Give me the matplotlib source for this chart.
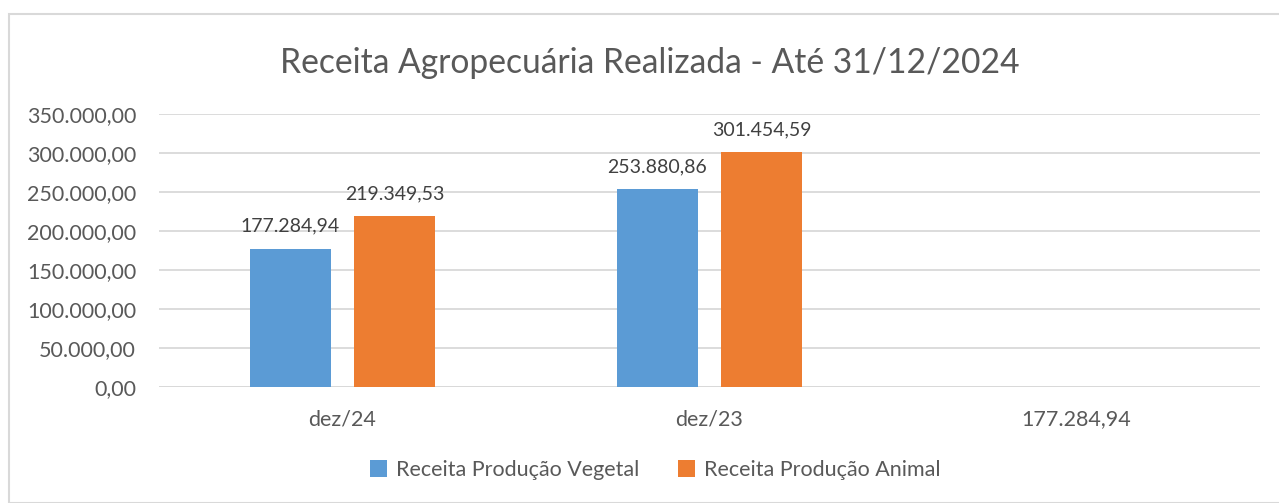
import matplotlib
matplotlib.use("Agg")
import matplotlib.pyplot as plt
from matplotlib.patches import Rectangle
import numpy as np

categories = ["dez/24", "dez/23", "177.284,94"]
vegetal = [177284.94, 253880.86, None]
animal = [219349.53, 301454.59, None]
series_names = ["Receita Produção Vegetal", "Receita Produção Animal"]
yticks = [0, 50000, 100000, 150000, 200000, 250000, 300000, 350000]
title = "Receita Agropecuária Realizada - Até 31/12/2024"

def fmt(v):
    s = f"{v:,.2f}"
    return s.replace(",", "X").replace(".", ",").replace("X", ".")

plt.rcParams['font.family'] = ['Lato', 'DejaVu Sans']
gray = "#595959"
W, H = 1279, 503
fig = plt.figure(figsize=(W/100, H/100), dpi=100)
fig.patches.append(Rectangle((9/W, 0), 1.2, 1 - 14/H, transform=fig.transFigure,
                             fill=False, edgecolor="#D9D9D9", linewidth=1.5))
ax = fig.add_axes([159/W, 1-387/H, (1260-159)/W, (387-114)/H])

x = np.arange(len(categories))
bw = 0.2234
off = 0.1417
colors = ["#5B9BD5", "#ED7D31"]
for i, (vals, c, name) in enumerate(zip([vegetal, animal], colors, series_names)):
    xs = [xi + (-off if i == 0 else off) for xi, v in zip(x, vals) if v is not None]
    vs = [v for v in vals if v is not None]
    ax.bar(xs, vs, width=bw, color=c, label=name, zorder=3)
    for xx, v in zip(xs, vs):
        ax.annotate(fmt(v), (xx, v), xytext=(0, 10), textcoords="offset points",
                    ha="center", va="bottom", fontsize=14, color="#404040")

ax.set_xlim(-0.5, 2.5)
ax.set_ylim(0, 350000)
ax.set_yticks(yticks)
ax.set_yticklabels([fmt(v) for v in yticks], fontsize=15.5, color=gray)
ax.set_xticks(x)
ax.set_xticklabels(categories, fontsize=15.5, color=gray)
ax.tick_params(axis="both", length=0)
ax.tick_params(axis="x", pad=16)
ax.tick_params(axis="y", pad=16.5)
ax.grid(axis="y", color="#D9D9D9", linewidth=1.3, zorder=0)
for s in ax.spines.values():
    s.set_visible(False)
ax.axhline(0, color="#D9D9D9", linewidth=1.3, zorder=2)

fig.text(650/W, 1-63/H, title, ha="center", va="center", fontsize=24.2, color=gray)
fig.legend(loc="center", bbox_to_anchor=(655/W, 1-470/H), ncol=2, frameon=False,
           fontsize=15.5, labelcolor=gray, handlelength=0.8, handleheight=0.8,
           handletextpad=0.4, columnspacing=1.8)
fig.savefig("out.png", dpi=100)
